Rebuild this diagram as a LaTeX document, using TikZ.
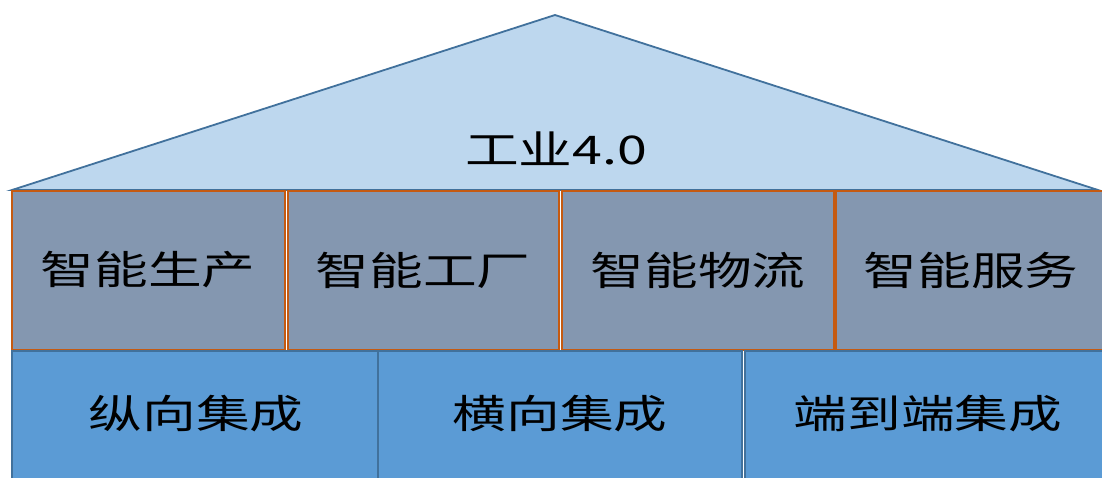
\documentclass[tikz,border=0pt]{standalone}
\usepackage{fontspec}
\newfontfamily\cjk[FakeStretch=1.36]{Noto Sans CJK SC}
\definecolor{roofFill}{HTML}{BDD7EE}
\definecolor{roofLine}{HTML}{41719C}
\definecolor{midFill}{HTML}{8497B0}
\definecolor{midLine}{HTML}{C55A11}
\definecolor{lowFill}{HTML}{5B9BD5}
\definecolor{lowLine}{HTML}{41719C}
\tikzset{
  roof/.style={fill=roofFill,draw=roofLine,line width=1.8pt,line join=miter},
  midbox/.style={fill=midFill,draw=midLine,line width=2pt},
  lowbox/.style={fill=lowFill,draw=lowLine,line width=1.5pt},
  lbl/.style={font=\cjk\fontsize{39.5}{42}\selectfont,text=black,inner sep=0pt,anchor=center}
}
\begin{document}
\begin{tikzpicture}[x=1pt,y=-1pt]
\useasboundingbox (0,0) rectangle (1102,478);
% roof
\draw[roof] (12,190) -- (555,15) -- (1098,190) -- cycle;
\node[lbl] (roofT) at (556,149) {工业4.0};
% middle row
\draw[midbox] (12,191) rectangle (285,350);
\draw[midbox] (288,191) rectangle (559,350);
\draw[midbox] (562,191) rectangle (834,350);
\draw[midbox] (836,191) rectangle (1108,350);
\node[lbl] (m1) at (148,270) {智能生产};
\node[lbl] (m2) at (423,270) {智能工厂};
\node[lbl] (m3) at (698,270) {智能物流};
\node[lbl] (m4) at (971,270) {智能服务};
% bottom row
\draw[lowbox] (12,351) rectangle (378,485);
\draw[lowbox] (378,351) rectangle (742,485);
\draw[lowbox] (745,351) rectangle (1108,485);
\node[lbl] (b1) at (196,414) {纵向集成};
\node[lbl] (b2) at (560,414) {横向集成};
\node[lbl] (b3) at (928,414) {端到端集成};
\end{tikzpicture}
\end{document}
